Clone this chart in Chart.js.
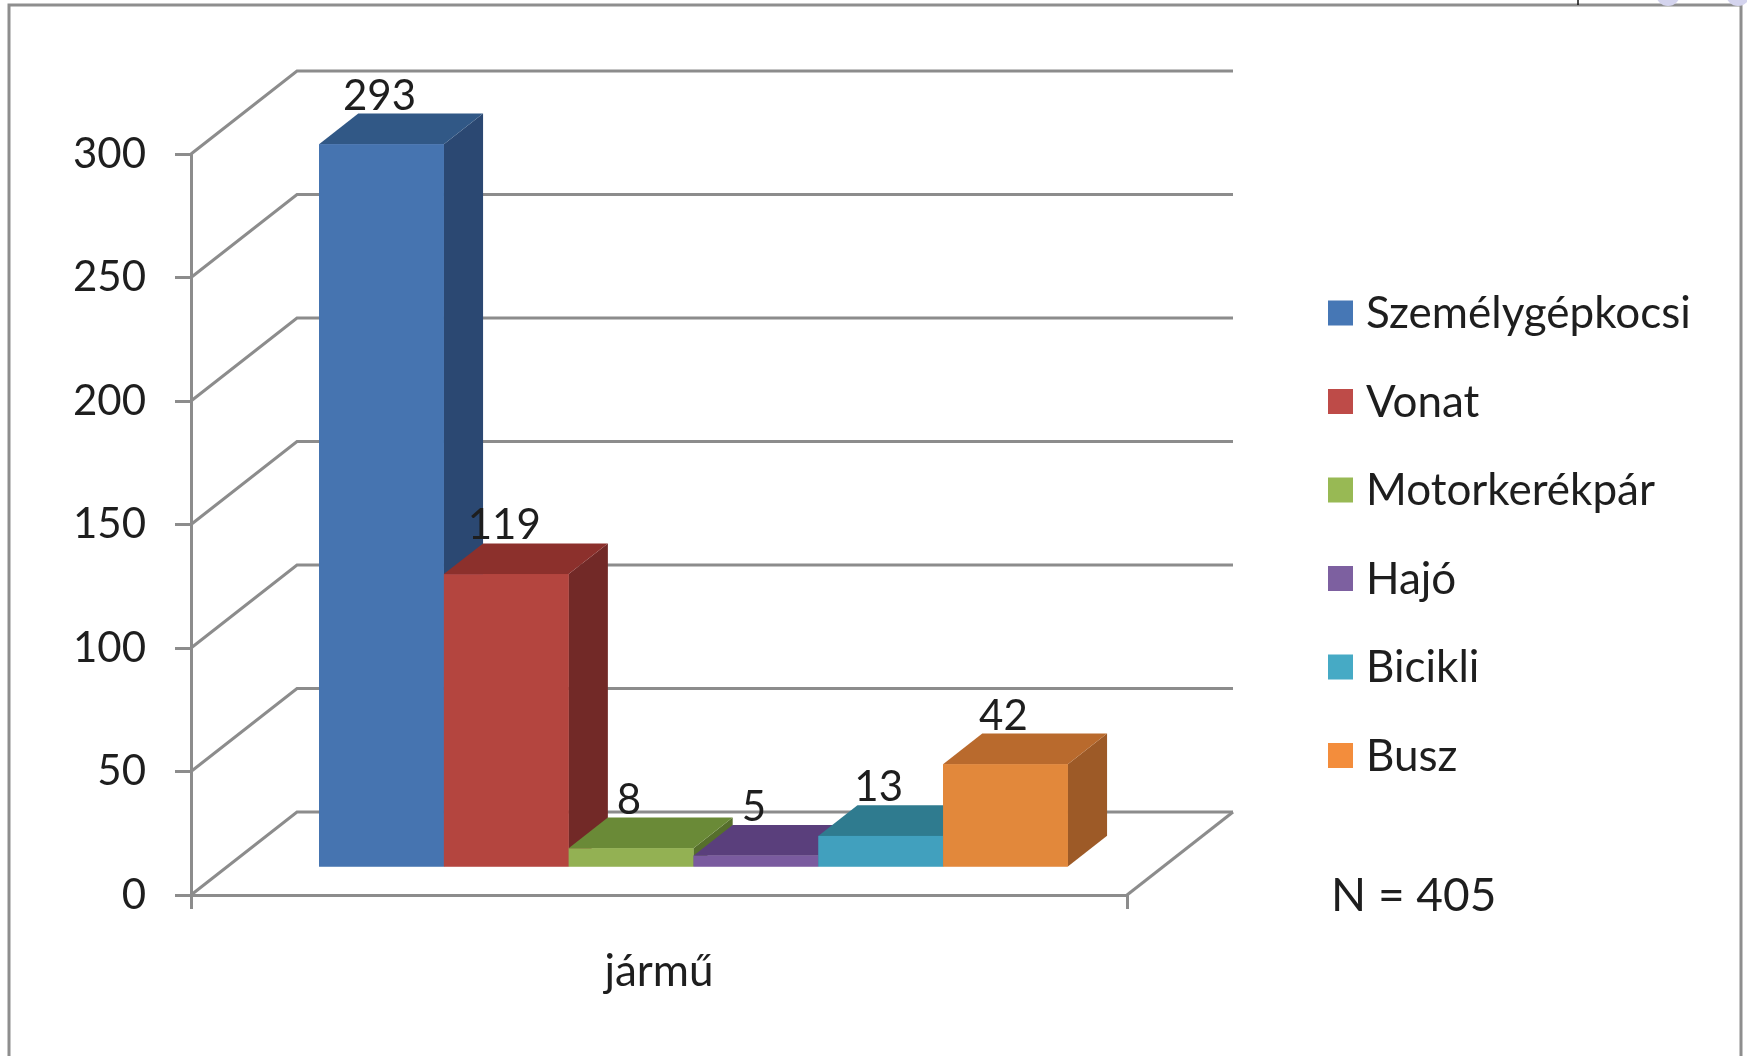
<!DOCTYPE html>
<html>
<head>
<meta charset="utf-8">
<script src="https://cdn.jsdelivr.net/npm/chart.js@4/dist/chart.umd.min.js"></script>
<style>
  html, body { margin: 0; padding: 0; background: #fff; }
  canvas { display: block; }
</style>
</head>
<body>
<canvas id="chart" width="1747" height="1056"></canvas>
<script>
// adatok
const categories = ['jármű'];
const seriesNames = ['Személygépkocsi', 'Vonat', 'Motorkerékpár', 'Hajó', 'Bicikli', 'Busz'];
const seriesValues = [293, 119, 8, 5, 13, 42];
const yTicks = [0, 50, 100, 150, 200, 250, 300];
const noteText = 'N = 405';

// szinek: elolap, teteje, oldala
const frontColors = ['#4674B0', '#B4453F', '#93B153', '#7A5B9F', '#41A0BE', '#E2883B'];
const topColors   = ['#315886', '#8C302C', '#6A8A37', '#5A3F7C', '#2F7B8F', '#B96A2D'];
const sideColors  = ['#2B4872', '#722927', '#566F2C', '#4A3366', '#276677', '#9D5A27'];
const legendColors = ['#4677B5', '#BE4B48', '#98B954', '#7D60A0', '#46AAC5', '#F38D3C'];

const gridColor = '#8C8C8C';
const textColor = '#1E1E1E';
const fontFamily = 'Lato, "Open Sans", sans-serif';

// terbeli eltolas (hatso fal) es az oszlopok helye a melysegben
const depth = { x: 106, y: -83 };
const barFront = 0.325;
const barDepth = 0.37;

const threeD = {
  id: 'threeD',
  beforeDraw(chart) {
    const ctx = chart.ctx;
    ctx.save();
    ctx.fillStyle = '#ffffff';
    ctx.fillRect(0, 0, chart.width, chart.height);
    // keret
    ctx.strokeStyle = '#8E8E8E';
    ctx.lineWidth = 3;
    ctx.beginPath();
    ctx.moveTo(9, chart.height + 5);
    ctx.lineTo(9, 5);
    ctx.lineTo(1741, 5);
    ctx.lineTo(1741, chart.height + 5);
    ctx.stroke();
    // apro maradvanyok a jobb felso sarokban
    ctx.strokeStyle = '#111';
    ctx.lineWidth = 1.5;
    ctx.beginPath();
    ctx.moveTo(1578, 0);
    ctx.lineTo(1578, 5);
    ctx.stroke();
    ctx.fillStyle = '#D4D4EE';
    ctx.beginPath();
    ctx.arc(1668, -6, 12, 0, Math.PI);
    ctx.fill();
    ctx.beginPath();
    ctx.arc(1738, -6, 12, 0, Math.PI);
    ctx.fill();
    ctx.restore();
  },
  beforeDatasetsDraw(chart) {
    const { ctx, chartArea: a, scales: { y } } = chart;
    ctx.save();
    ctx.strokeStyle = gridColor;
    ctx.lineWidth = 3;
    y.ticks.forEach(t => {
      const py = y.getPixelForValue(t.value);
      ctx.beginPath();
      ctx.moveTo(a.left, py);
      ctx.lineTo(a.left + depth.x, py + depth.y);
      ctx.lineTo(a.right + depth.x, py + depth.y);
      ctx.stroke();
    });
    // padlo jobb oldala
    ctx.beginPath();
    ctx.moveTo(a.right, a.bottom);
    ctx.lineTo(a.right + depth.x, a.bottom + depth.y);
    ctx.stroke();
    ctx.restore();

    // az oszlopok a melysegben beljebb allnak
    ctx.save();
    ctx.translate(depth.x * barFront, depth.y * barFront);
  },
  afterDatasetsDraw(chart) {
    const ctx = chart.ctx;
    const dx = depth.x * barDepth, dy = depth.y * barDepth;
    const tops = [];
    chart.data.datasets.forEach((ds, i) => {
      const bar = chart.getDatasetMeta(i).data[0];
      const { x, y, base, width } = bar.getProps(['x', 'y', 'base', 'width'], true);
      const l = x - width / 2, r = x + width / 2;
      // oldala
      ctx.fillStyle = sideColors[i];
      ctx.beginPath();
      ctx.moveTo(r, y);
      ctx.lineTo(r + dx, y + dy);
      ctx.lineTo(r + dx, base + dy);
      ctx.lineTo(r, base);
      ctx.closePath();
      ctx.fill();
      // teteje
      ctx.fillStyle = topColors[i];
      ctx.beginPath();
      ctx.moveTo(l, y);
      ctx.lineTo(l + dx, y + dy);
      ctx.lineTo(r + dx, y + dy);
      ctx.lineTo(r, y);
      ctx.closePath();
      ctx.fill();
      // eleje
      ctx.fillStyle = frontColors[i];
      ctx.fillRect(l, y, width, base - y);
      tops.push({ x: x, y: y + dy });
    });
    // ertekek
    ctx.fillStyle = textColor;
    ctx.font = '42px ' + fontFamily;
    ctx.textAlign = 'center';
    ctx.textBaseline = 'alphabetic';
    tops.forEach((p, i) => {
      ctx.fillText(String(seriesValues[i]), p.x - 2, p.y - 4);
    });
    ctx.restore();
  },
  afterDraw(chart) {
    const ctx = chart.ctx;
    ctx.save();
    ctx.font = '44px ' + fontFamily;
    ctx.textAlign = 'left';
    ctx.textBaseline = 'middle';
    seriesNames.forEach((name, i) => {
      const cy = 313 + i * 88.5;
      ctx.fillStyle = legendColors[i];
      ctx.fillRect(1328, cy - 12.5, 25, 25);
      ctx.fillStyle = textColor;
      ctx.fillText(name, 1366, cy + 1);
    });
    ctx.font = '46px ' + fontFamily;
    ctx.fillText(noteText, 1331, 896);
    ctx.restore();
  }
};

const ctx = document.getElementById('chart').getContext('2d');
const chart = new Chart(ctx, {
  type: 'bar',
  data: {
    labels: categories,
    datasets: seriesNames.map((name, i) => ({
      label: name,
      data: [seriesValues[i]],
      backgroundColor: frontColors[i],
      borderWidth: 0,
      categoryPercentage: 0.8,
      barPercentage: 1,
      clip: false
    }))
  },
  options: {
    responsive: false,
    animation: false,
    layout: { padding: { left: 0, right: 620, top: 154, bottom: 0 } },
    plugins: {
      legend: { display: false },
      tooltip: { enabled: false }
    },
    scales: {
      x: {
        afterFit(scale) { scale.height = 161; },
        grid: { offset: true, drawOnChartArea: false, drawTicks: true, tickLength: 14, color: gridColor, lineWidth: 3 },
        border: { display: true, color: gridColor, width: 3 },
        ticks: { color: textColor, font: { family: fontFamily, size: 44 }, padding: 36, maxRotation: 0 }
      },
      y: {
        min: yTicks[0],
        max: yTicks[yTicks.length - 1],
        afterFit(scale) { scale.width = 191; },
        afterBuildTicks(scale) { scale.ticks = yTicks.map(v => ({ value: v })); },
        grid: { drawOnChartArea: false, drawTicks: true, tickLength: 16, color: gridColor, lineWidth: 3 },
        border: { display: true, color: gridColor, width: 3 },
        ticks: { color: textColor, font: { family: fontFamily, size: 42 }, padding: 29 }
      }
    }
  },
  plugins: [threeD]
});
</script>
</body>
</html>
